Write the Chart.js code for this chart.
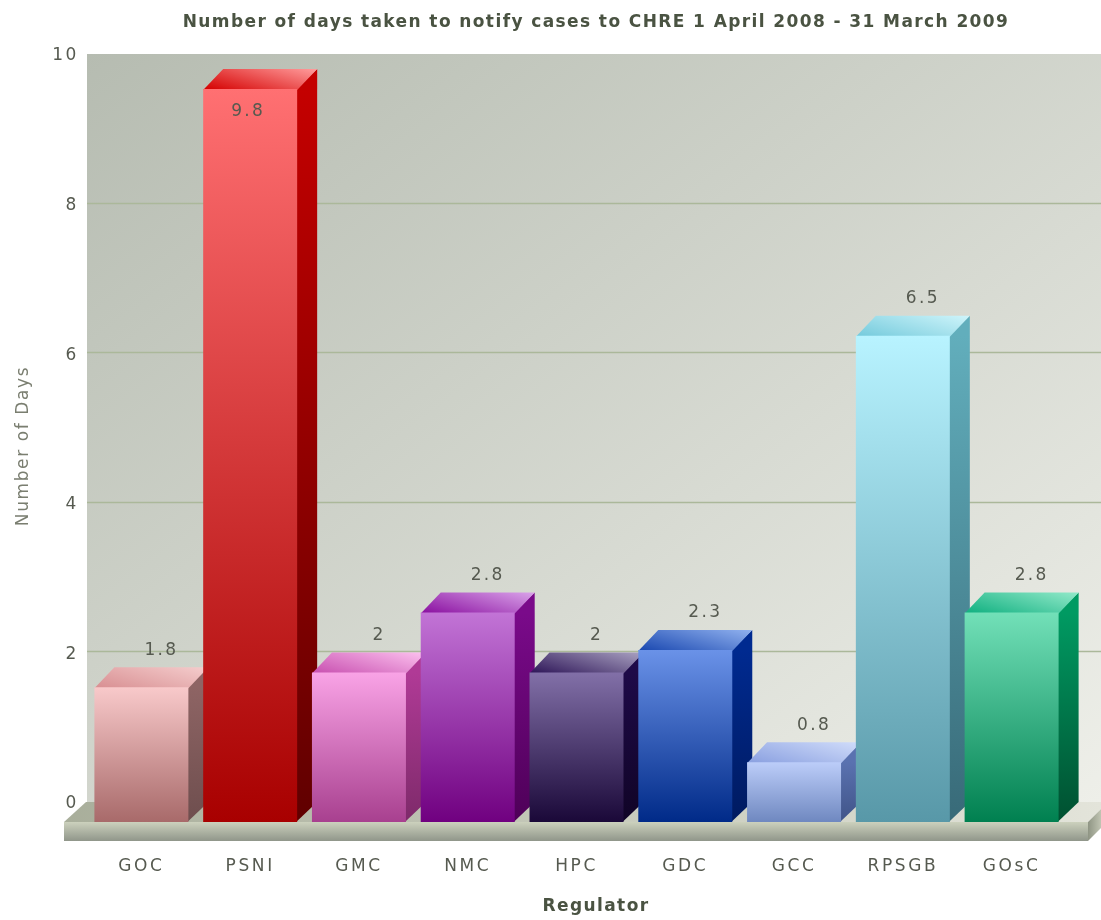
<!DOCTYPE html>
<html><head><meta charset="utf-8">
<style>html,body{margin:0;padding:0;background:#fff;overflow:hidden}canvas{display:block}</style>
<script src="https://cdn.jsdelivr.net/npm/chart.js@4"></script>
</head><body><canvas id="c" width="1101" height="920"></canvas>
<script>
const categories = ['GOC','PSNI','GMC','NMC','HPC','GDC','GCC','RPSGB','GOsC'];
const days = [1.8,9.8,2,2.8,2,2.3,0.8,6.5,2.8];
const yTicks = [0,2,4,6,8,10];
const frontTop = ['#f8c9ca','#ff7072','#f9a3e6','#c274d6','#8270a8','#6a92e8','#bccdf9','#b8f3ff','#72e0b8'];
const frontBottom = ['#a86a6a','#a80000','#a8408f','#700080','#1a0838','#002a88','#6f88c0','#5898a8','#008050'];
const sideTop = ['#8e6464','#c40000','#b03a96','#7a0a8a','#1e0a48','#002a90','#5a72b0','#62aebc','#009a62'];
const sideBottom = ['#6e4e4e','#600000','#7e2a6a','#4e0058','#100426','#001a60','#405488','#386a78','#005030'];
const topFrom = ['#d88f92','#d40000','#c850b0','#8a10a0','#2e1658','#1a48b0','#8aa0e0','#74cadc','#10b080'];
const topTo = ['#f4cccc','#ff9a9a','#fcc0ee','#d8a0e8','#a8a0c0','#8fb0ee','#d0dcfa','#cdf4fa','#90e8c8'];
const chartTitle = 'Number of days taken to notify cases to CHRE 1 April 2008 - 31 March 2009';
const xTitle = 'Regulator';
const yTitle = 'Number of Days';

const DEPTH_X = 20, DEPTH_Y = 20;
const TEXT = '#565a50', LS = '2.6px';

const scene = {
  id: 'scene',
  beforeDraw(chart) {
    const c = chart.ctx;
    c.letterSpacing = LS;
    const {left, top, bottom} = chart.chartArea;
    const W = chart.width;
    const wallL = left, wallR = W;
    const g = c.createLinearGradient(wallL, top, wallL + 713, top + 969);
    g.addColorStop(0, '#b6bcb1');
    g.addColorStop(1, '#eeefe9');
    c.fillStyle = g;
    c.fillRect(wallL, top, wallR - wallL, bottom - top);
    // grid lines
    const y = chart.scales.y;
    c.strokeStyle = '#abb89a';
    c.lineWidth = 1.5;
    y.ticks.forEach(t => {
      if (t.value === 0 || t.value === 10) return;
      const py = Math.round(y.getPixelForValue(t.value)) - .5;
      c.beginPath(); c.moveTo(wallL, py); c.lineTo(wallR, py); c.stroke();
    });
    // floor
    const fl = 64, fr = 1088, fy = bottom + DEPTH_Y, fb = fy + 19;
    const gt = c.createLinearGradient(0, bottom, W, fy);
    gt.addColorStop(0, '#a5ab97'); gt.addColorStop(1, '#e3e4da');
    c.fillStyle = gt;
    c.beginPath(); c.moveTo(fl, fy); c.lineTo(fl + 22, bottom); c.lineTo(fr + 20, bottom); c.lineTo(fr, fy); c.closePath(); c.fill();
    const gf = c.createLinearGradient(0, fy, 0, fb);
    gf.addColorStop(0, '#ccd1bd'); gf.addColorStop(1, '#90968a');
    c.fillStyle = gf; c.fillRect(fl, fy, fr - fl, fb - fy);
    const gs = c.createLinearGradient(fr, 0, fr + 14, 0);
    gs.addColorStop(0, '#8f9584'); gs.addColorStop(1, '#c4c8b6');
    c.fillStyle = gs;
    c.beginPath(); c.moveTo(fr, fy); c.lineTo(fr + 20, bottom); c.lineTo(fr + 20, fb - 20); c.lineTo(fr, fb); c.closePath(); c.fill();
  },
  beforeDatasetDraw(chart, args) {
    const c = chart.ctx;
    const meta = chart.getDatasetMeta(args.index);
    meta.data.forEach((b, i) => {
      const l = b.x - b.width / 2, r = b.x + b.width / 2;
      const t = b.y + DEPTH_Y, bot = b.base + DEPTH_Y;
      let g = c.createLinearGradient(0, t, 0, bot);
      g.addColorStop(0, sideTop[i]); g.addColorStop(1, sideBottom[i]);
      c.fillStyle = g;
      c.beginPath(); c.moveTo(r - 1, t); c.lineTo(r + DEPTH_X, t - DEPTH_Y); c.lineTo(r + DEPTH_X, bot - DEPTH_Y); c.lineTo(r - 1, bot); c.closePath(); c.fill();
      g = c.createLinearGradient(l, t, l + 13, t - 47);
      g.addColorStop(0, topFrom[i]); g.addColorStop(1, topTo[i]);
      c.fillStyle = g;
      c.beginPath(); c.moveTo(l, t + 1); c.lineTo(l + DEPTH_X, t - DEPTH_Y); c.lineTo(r + DEPTH_X, t - DEPTH_Y); c.lineTo(r, t + 1); c.closePath(); c.fill();
    });
    c.save();
    c.translate(0, DEPTH_Y);
  },
  afterDatasetDraw(chart) { chart.ctx.restore(); },
  afterDatasetsDraw(chart) {
    const c = chart.ctx;
    const meta = chart.getDatasetMeta(0);
    c.save();
    c.font = '17px "DejaVu Sans"'; c.fillStyle = TEXT;
    c.letterSpacing = '2.3px';
    c.textAlign = 'center'; c.textBaseline = 'middle';
    meta.data.forEach((b, i) => {
      const inside = b.y - 19 < chart.chartArea.top + 5;
      const px = inside ? b.x - 2 : b.x + DEPTH_X;
      const py = inside ? b.y + 43 : b.y - 17;
      c.fillText(String(days[i]), px, py);
    });
    c.restore();
  },
  afterDraw(chart) {
    const c = chart.ctx;
    c.save();
    c.textAlign = 'center'; c.textBaseline = 'middle';
    c.font = 'bold 17px "DejaVu Sans"'; c.fillStyle = '#4a5342';
    c.letterSpacing = '1.4px';
    c.fillText(chartTitle, 596, 23);
    c.fillText(xTitle, 596, 907);
    c.font = '17px "DejaVu Sans"'; c.fillStyle = '#7a7e70';
    c.letterSpacing = '1.6px';
    c.translate(24, 446); c.rotate(-Math.PI / 2);
    c.fillText(yTitle, 0, 0);
    c.restore();
  }
};

new Chart(document.getElementById('c'), {
  type: 'bar',
  plugins: [scene],
  data: { labels: categories, datasets: [{
    data: days,
    clip: false,
    borderWidth: 0,
    categoryPercentage: 1,
    barPercentage: 0.864,
    backgroundColor(ctx) {
      const i = ctx.dataIndex;
      const y = ctx.chart.scales.y;
      if (i === undefined || !y) return frontTop[0];
      const y0 = y.getPixelForValue(days[i]), y1 = y.getPixelForValue(0);
      if (!isFinite(y0) || !isFinite(y1)) return frontTop[i];
      const g = ctx.chart.ctx.createLinearGradient(0, y0, 0, y1);
      g.addColorStop(0, frontTop[i]);
      g.addColorStop(1, frontBottom[i]);
      return g;
    }
  }]},
  options: {
    responsive: false, animation: false, devicePixelRatio: 1,
    layout: { padding: { top: 54, right: 35, left: 0, bottom: 0 } },
    plugins: { legend: { display: false }, tooltip: { enabled: false }, title: { display: false } },
    scales: {
      x: {
        afterFit(s) { s.height = 118; },
        grid: { display: false, drawTicks: false }, border: { display: false },
        ticks: { padding: 54, color: TEXT, font: { family: '"DejaVu Sans"', size: 17 }, maxRotation: 0, autoSkip: false }
      },
      y: {
        min: 0, max: 10,
        afterFit(s) { s.width = 87; },
        afterBuildTicks(s) { s.ticks = yTicks.map(v => ({ value: v })); },
        grid: { display: false, drawTicks: false }, border: { display: false },
        ticks: { padding: 8, labelOffset: 2, color: TEXT, font: { family: '"DejaVu Sans"', size: 17 } }
      }
    }
  }
});
</script></body></html>
